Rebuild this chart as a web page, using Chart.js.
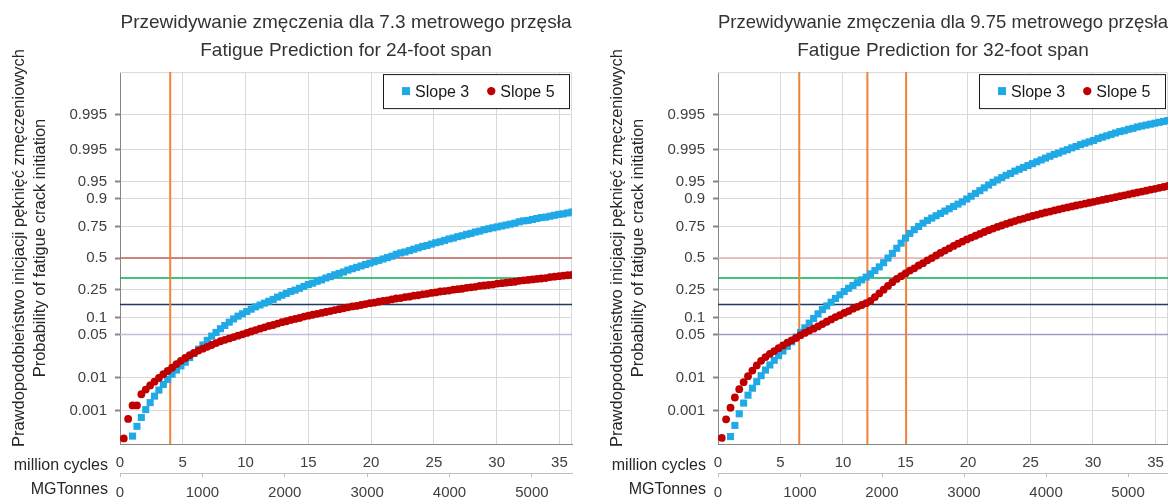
<!DOCTYPE html>
<html>
<head>
<meta charset="utf-8">
<script src="https://cdn.jsdelivr.net/npm/chart.js@4.4.1/dist/chart.umd.min.js"></script>
<style>
  body { margin: 0; background: #fff; }
  .panel { position: absolute; top: 0; height: 497px; }
  #left { left: 0; width: 578px; }
  #right { left: 598px; width: 576px; }
</style>
</head>
<body>
<div class="panel" id="left"><canvas id="chartLeft"></canvas></div>
<div class="panel" id="right"><canvas id="chartRight"></canvas></div>
<script>
// million load cycles of every plotted point (shared by all four series)
var cycles = [
  0.3, 0.65, 1.0, 1.35, 1.7, 2.05, 2.4, 2.75, 3.1, 3.45,
  3.8, 4.15, 4.5, 4.85, 5.2, 5.55, 5.9, 6.25, 6.6, 6.95,
  7.3, 7.65, 8.0, 8.35, 8.7, 9.05, 9.4, 9.75, 10.1, 10.45,
  10.8, 11.15, 11.5, 11.85, 12.2, 12.55, 12.9, 13.25, 13.6, 13.95,
  14.3, 14.65, 15.0, 15.35, 15.7, 16.05, 16.4, 16.75, 17.1, 17.45,
  17.8, 18.15, 18.5, 18.85, 19.2, 19.55, 19.9, 20.25, 20.6, 20.95,
  21.3, 21.65, 22.0, 22.35, 22.7, 23.05, 23.4, 23.75, 24.1, 24.45,
  24.8, 25.15, 25.5, 25.85, 26.2, 26.55, 26.9, 27.25, 27.6, 27.95,
  28.3, 28.65, 29.0, 29.35, 29.7, 30.05, 30.4, 30.75, 31.1, 31.45,
  31.8, 32.15, 32.5, 32.85, 33.2, 33.55, 33.9, 34.25, 34.6, 34.95,
  35.3, 35.65, 36.0
];

// probability of crack initiation, in probit (normal score) units
// 7.3 m / 24-foot span
var slope3Short = [
  null, null, -3.83, -3.62, -3.43, -3.26, -3.11, -2.97, -2.84, -2.72,
  -2.61, -2.50, -2.41, -2.32, -2.24, -2.14, -2.05, -1.96, -1.87, -1.77,
  -1.68, -1.60, -1.52, -1.45, -1.38, -1.31, -1.25, -1.20, -1.15, -1.10,
  -1.05, -1.01, -0.97, -0.93, -0.89, -0.84, -0.80, -0.76, -0.72, -0.69,
  -0.65, -0.61, -0.57, -0.54, -0.50, -0.47, -0.43, -0.40, -0.36, -0.33,
  -0.30, -0.26, -0.23, -0.20, -0.17, -0.14, -0.11, -0.08, -0.05, -0.02,
  0.01, 0.04, 0.08, 0.11, 0.13, 0.16, 0.19, 0.22, 0.25, 0.27,
  0.30, 0.33, 0.35, 0.38, 0.41, 0.43, 0.46, 0.48, 0.51, 0.53,
  0.56, 0.58, 0.61, 0.63, 0.65, 0.67, 0.69, 0.71, 0.73, 0.75,
  0.78, 0.80, 0.81, 0.83, 0.85, 0.87, 0.88, 0.90, 0.92, 0.94,
  0.95, 0.97, 0.99
];
var slope5Short = [
  -3.88, -3.46, -3.17, -3.17, -2.93, -2.83, -2.74, -2.66, -2.58, -2.50,
  -2.43, -2.36, -2.28, -2.21, -2.15, -2.09, -2.04, -1.99, -1.95, -1.91,
  -1.87, -1.83, -1.79, -1.76, -1.73, -1.70, -1.67, -1.64, -1.61, -1.58,
  -1.55, -1.52, -1.49, -1.46, -1.44, -1.41, -1.38, -1.36, -1.33, -1.31,
  -1.29, -1.26, -1.24, -1.22, -1.20, -1.18, -1.16, -1.14, -1.12, -1.10,
  -1.08, -1.06, -1.04, -1.03, -1.01, -0.99, -0.97, -0.96, -0.94, -0.92,
  -0.91, -0.89, -0.87, -0.86, -0.84, -0.83, -0.81, -0.80, -0.78, -0.77,
  -0.75, -0.74, -0.72, -0.71, -0.70, -0.68, -0.67, -0.66, -0.64, -0.63,
  -0.62, -0.60, -0.59, -0.58, -0.57, -0.55, -0.54, -0.53, -0.52, -0.51,
  -0.49, -0.48, -0.47, -0.46, -0.45, -0.44, -0.43, -0.41, -0.40, -0.39,
  -0.38, -0.37, -0.36
];
// 9.75 m / 32-foot span
var slope3Long = [
  null, null, -3.84, -3.60, -3.35, -3.12, -2.95, -2.80, -2.66, -2.53,
  -2.41, -2.30, -2.20, -2.10, -2.00, -1.90, -1.80, -1.70, -1.60, -1.50,
  -1.40, -1.30, -1.20, -1.11, -1.03, -0.95, -0.87, -0.79, -0.72, -0.65,
  -0.59, -0.53, -0.47, -0.41, -0.34, -0.27, -0.19, -0.10, 0.00, 0.10,
  0.21, 0.32, 0.43, 0.53, 0.61, 0.68, 0.75, 0.81, 0.86, 0.91,
  0.96, 1.01, 1.06, 1.11, 1.16, 1.21, 1.27, 1.33, 1.39, 1.45,
  1.51, 1.57, 1.63, 1.68, 1.73, 1.78, 1.82, 1.87, 1.91, 1.95,
  1.99, 2.03, 2.07, 2.11, 2.15, 2.19, 2.23, 2.26, 2.30, 2.33,
  2.37, 2.40, 2.44, 2.47, 2.50, 2.53, 2.57, 2.60, 2.63, 2.66,
  2.69, 2.72, 2.74, 2.77, 2.79, 2.82, 2.84, 2.86, 2.88, 2.90,
  2.92, 2.94, 2.96
];
var slope5Long = [
  -3.87, -3.47, -3.22, -3.00, -2.82, -2.67, -2.54, -2.42, -2.31, -2.21,
  -2.13, -2.06, -2.00, -1.94, -1.88, -1.82, -1.77, -1.72, -1.66, -1.61,
  -1.56, -1.52, -1.47, -1.42, -1.37, -1.32, -1.27, -1.23, -1.18, -1.14,
  -1.09, -1.05, -1.01, -0.97, -0.92, -0.84, -0.76, -0.68, -0.60, -0.52,
  -0.45, -0.39, -0.33, -0.27, -0.22, -0.16, -0.11, -0.05, 0.00, 0.055,
  0.11, 0.16, 0.21, 0.26, 0.31, 0.355, 0.40, 0.44, 0.48, 0.52,
  0.56, 0.60, 0.635, 0.67, 0.70, 0.735, 0.765, 0.795, 0.825, 0.85,
  0.88, 0.905, 0.93, 0.955, 0.98, 1.00, 1.025, 1.045, 1.07, 1.09,
  1.11, 1.13, 1.15, 1.17, 1.19, 1.21, 1.23, 1.25, 1.27, 1.29,
  1.31, 1.33, 1.35, 1.37, 1.39, 1.41, 1.43, 1.45, 1.47, 1.49,
  1.51, 1.53, 1.55
];

// y axis: probit positions and the labels printed beside them
var probTicks = [3.09, 2.33, 1.645, 1.28, 0.674, 0, -0.674, -1.28, -1.645, -2.576, -3.29];
var probLabels = ['0.995', '0.995', '0.95', '0.9', '0.75', '0.5', '0.25', '0.1', '0.05', '0.01', '0.001'];
var cycleTicks = [0, 5, 10, 15, 20, 25, 30, 35];
var tonneTicks = [0, 1000, 2000, 3000, 4000, 5000];
var cyclesMax = 36;
var tonnesMax = 5487;

// horizontal reference levels (probit) and vertical markers (million cycles)
var levels = [0, -0.43, -1.0, -1.645];
var markersShort = [4.0];
var markersLong = [6.5, 11.95, 15.05];

var FONT = "'Liberation Sans', Arial, sans-serif";
var yTitle = ['Prawdopodobieństwo inicjacji pęknięć zmęczeniowych', 'Probability of fatigue crack initiation'];

Chart.defaults.font.family = FONT;

function toPoints(values) {
  var pts = [];
  values.forEach(function(v, i) {
    if (v !== null) pts.push({ x: cycles[i], y: v });
  });
  return pts;
}

// light frame on the top and right of the plot area
var framePlugin = {
  id: 'frame',
  beforeDatasetsDraw: function(chart) {
    var ctx = chart.ctx, a = chart.chartArea;
    ctx.save();
    ctx.strokeStyle = '#d9d9d9';
    ctx.lineWidth = 1;
    ctx.beginPath();
    ctx.moveTo(a.left, a.top + 0.5);
    ctx.lineTo(a.right - 0.5, a.top + 0.5);
    ctx.lineTo(a.right - 0.5, a.bottom);
    ctx.stroke();
    ctx.restore();
  }
};

// axis names and the boxed legend
var textPlugin = {
  id: 'texts',
  afterDraw: function(chart) {
    var ctx = chart.ctx, a = chart.chartArea;
    ctx.save();
    ctx.fillStyle = '#262626';
    ctx.font = '16px ' + FONT;
    ctx.textAlign = 'right';
    ctx.textBaseline = 'alphabetic';
    ctx.fillText('million cycles', a.left - 12, a.bottom + 26);
    ctx.fillText('MGTonnes', a.left - 12, a.bottom + 50);

    // rotated y axis title, two lines
    ctx.save();
    ctx.font = '16.5px ' + FONT;
    ctx.translate(a.left - 101, (a.top + a.bottom) / 2 - 10);
    ctx.rotate(-Math.PI / 2);
    ctx.textAlign = 'center';
    ctx.textBaseline = 'middle';
    ctx.fillText(yTitle[0], 0, 0);
    ctx.fillText(yTitle[1], 0, 21);
    ctx.restore();

    // legend
    var w = 186, h = 34;
    var left = a.right - 3 - w, top = a.top + 2;
    ctx.fillStyle = '#fff';
    ctx.fillRect(left, top, w, h);
    ctx.strokeStyle = '#1a1a1a';
    ctx.lineWidth = 1;
    ctx.strokeRect(left + 0.5, top + 0.5, w, h);
    var cy = top + h / 2;
    var x = left + 19;
    ctx.font = '16px ' + FONT;
    ctx.textAlign = 'left';
    ctx.textBaseline = 'middle';
    chart.data.datasets.forEach(function(ds) {
      if (!ds.legendEntry) return;
      ctx.fillStyle = ds.backgroundColor;
      if (ds.pointStyle === 'rect') {
        ctx.fillRect(x, cy - 4, 8, 8);
      } else {
        ctx.beginPath();
        ctx.arc(x + 4, cy, 4.2, 0, 2 * Math.PI);
        ctx.fill();
      }
      ctx.fillStyle = '#1a1a1a';
      ctx.fillText(ds.label, x + 13, cy + 1);
      x += 13 + ctx.measureText(ds.label).width + 18;
    });
    ctx.restore();
  }
};

function makeChart(canvasId, titleLines, s3, s5, markers, levelColors) {
  var datasets = [];
  datasets.push({
    label: 'Slope 3', legendEntry: true, data: toPoints(s3),
    pointStyle: 'rect', pointRadius: 5, backgroundColor: '#1FA9E6', borderWidth: 0, order: 2
  });
  datasets.push({
    label: 'Slope 5', legendEntry: true, data: toPoints(s5),
    pointStyle: 'circle', pointRadius: 3.9, backgroundColor: '#C00000', borderWidth: 0, order: 1
  });
  levels.forEach(function(z, i) {
    datasets.push({
      label: '', data: [{ x: 0, y: z }, { x: cyclesMax, y: z }], showLine: true,
      borderColor: levelColors[i], borderWidth: 1.6, pointRadius: 0, order: 5
    });
  });
  markers.forEach(function(m) {
    datasets.push({
      label: '', data: [{ x: m, y: -4 }, { x: m, y: 4 }], showLine: true,
      borderColor: '#F0823A', borderWidth: 2, pointRadius: 0, order: 4
    });
  });

  var tickFont = { family: FONT, size: 15 };

  return new Chart(document.getElementById(canvasId), {
    type: 'scatter',
    data: { datasets: datasets },
    options: {
      responsive: true,
      maintainAspectRatio: false,
      animation: false,
      layout: { padding: { left: 0, right: 6, top: 0, bottom: 0 } },
      plugins: {
        legend: { display: false },
        tooltip: { enabled: false },
        title: {
          display: true, text: titleLines, fullSize: false, color: '#333',
          font: { family: FONT, size: 19, weight: 'normal', lineHeight: 1.45 },
          padding: { top: 9, bottom: 8 }
        }
      },
      scales: {
        x: {
          type: 'linear', position: 'bottom', min: 0, max: cyclesMax, weight: 0,
          afterBuildTicks: function(s) { s.ticks = cycleTicks.map(function(v) { return { value: v }; }); },
          afterFit: function(s) { s.height = 29; },
          grid: { color: '#d9d9d9', drawTicks: false },
          border: { color: '#868686' },
          ticks: { autoSkip: false, maxRotation: 0, padding: 10, color: '#404040', font: tickFont,
                   callback: function(v) { return String(v); } }
        },
        x2: {
          type: 'linear', position: 'bottom', min: 0, max: tonnesMax, weight: 1,
          afterBuildTicks: function(s) { s.ticks = tonneTicks.map(function(v) { return { value: v }; }); },
          afterFit: function(s) { s.height = 24; },
          grid: { drawOnChartArea: false, tickLength: 4, color: '#bfbfbf' },
          border: { color: '#bfbfbf' },
          ticks: { autoSkip: false, maxRotation: 0, padding: 7, color: '#404040', font: tickFont,
                   callback: function(v) { return String(v); } }
        },
        y: {
          type: 'linear', min: -4, max: 4,
          afterBuildTicks: function(s) { s.ticks = probTicks.map(function(v) { return { value: v }; }); },
          afterFit: function(s) { s.width = 120; },
          grid: { color: '#d9d9d9', tickLength: 5, tickColor: '#868686', tickWidth: 2 },
          border: { color: '#868686' },
          ticks: { autoSkip: false, padding: 8, color: '#404040', font: tickFont,
                   callback: function(v, i) { return probLabels[i]; } }
        }
      }
    },
    plugins: [framePlugin, textPlugin]
  });
}

makeChart('chartLeft',
  ['Przewidywanie zmęczenia dla 7.3 metrowego przęsła', 'Fatigue Prediction for 24-foot span'],
  slope3Short, slope5Short, markersShort,
  ['#C0605C', '#00B050', '#1F3864', '#C7BCD8']);

makeChart('chartRight',
  ['Przewidywanie zmęczenia dla 9.75 metrowego przęsła', 'Fatigue Prediction for 32-foot span'],
  slope3Long, slope5Long, markersLong,
  ['#E3AFAE', '#00B050', '#1F3864', '#A896C6']);
</script>
</body>
</html>
